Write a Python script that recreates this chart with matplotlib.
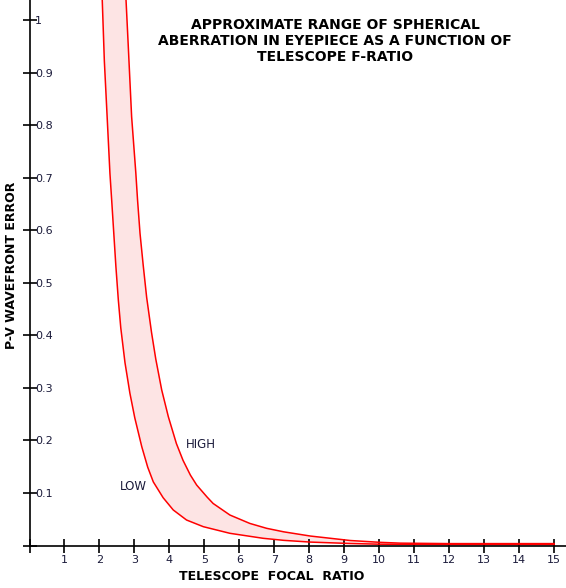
import matplotlib
matplotlib.use("Agg")
from matplotlib import pyplot as plt

# values
low_x = [2.05, 2.08, 2.14, 2.21, 2.30, 2.35, 2.41, 2.47, 2.54, 2.61, 2.73, 2.87, 3.01,
         3.21, 3.38, 3.54, 3.82, 4.11, 4.49, 4.97, 5.73, 6.68, 7.27, 8.03, 9.17, 10.0,
         12.0, 15.0]
low_y = [1.10, 1.038, 0.922, 0.829, 0.708, 0.657, 0.594, 0.531, 0.467, 0.414, 0.348, 0.290,
         0.243, 0.188, 0.149, 0.121, 0.091, 0.0676, 0.0485, 0.0358, 0.0232, 0.0137, 0.0098,
         0.0065, 0.0038, 0.0025, 0.0018, 0.0018]

high_x = [2.74, 2.76, 2.82, 2.92, 3.04, 3.09, 3.16, 3.25, 3.35, 3.49, 3.61, 3.78, 3.97,
          4.20, 4.39, 4.60, 4.78, 5.08, 5.25, 5.73, 6.30, 6.78, 7.27, 8.03, 9.17, 10.03,
          10.6, 12.0, 15.0]
high_y = [1.10, 1.038, 0.956, 0.816, 0.709, 0.657, 0.594, 0.534, 0.472, 0.405, 0.355, 0.296,
          0.245, 0.194, 0.162, 0.134, 0.115, 0.092, 0.080, 0.058, 0.042, 0.0327, 0.026, 0.018,
          0.0095, 0.006, 0.0045, 0.0036, 0.0036]

x_ticks = list(range(1, 16))
y_ticks = [0.1, 0.2, 0.3, 0.4, 0.5, 0.6, 0.7, 0.8, 0.9, 1.0]
y_tick_labels = ['0.1', '0.2', '0.3', '0.4', '0.5', '0.6', '0.7', '0.8', '0.9', '1']

title = "APPROXIMATE RANGE OF SPHERICAL\nABERRATION IN EYEPIECE AS A FUNCTION OF\nTELESCOPE F-RATIO"

fig = plt.figure(figsize=(5.66, 5.88), dpi=100)
ax = fig.add_axes([29.5 / 566, 42.5 / 588, 1 - 29.5 / 566, 545.5 / 588])
ax.set_xlim(0, 15.34)
ax.set_ylim(0, 1.038)

# shaded band between the two curves
ax.fill(low_x + high_x[::-1], low_y + high_y[::-1], color='#fde4e4', lw=0, zorder=1)
ax.plot(low_x, low_y, color='red', lw=1.1, zorder=2)
ax.plot(high_x, high_y, color='red', lw=1.1, zorder=2)

for s in ['top', 'right']:
    ax.spines[s].set_visible(False)
for s in ['left', 'bottom']:
    ax.spines[s].set_linewidth(1.2)
    ax.spines[s].set_zorder(3)

ax.set_xticks([0] + x_ticks)
ax.set_xticklabels([''] + [str(v) for v in x_ticks])
ax.set_yticks([0] + y_ticks)
ax.set_yticklabels([''] + y_tick_labels)
ax.tick_params(axis='both', direction='inout', length=10, width=1.2, labelsize=8,
               labelcolor='#1a1a3a')
ax.tick_params(axis='x', pad=2)
ax.tick_params(axis='y', pad=-9)
for lbl in ax.get_yticklabels():
    lbl.set_horizontalalignment('left')

ax.text(2.97, 0.113, 'LOW', fontsize=8.5, ha='center', va='center', color='#1a1a3a')
ax.text(4.89, 0.193, 'HIGH', fontsize=8.5, ha='center', va='center', color='#1a1a3a')

fig.text(335 / 566, 1 - 41 / 588, title, fontsize=10, fontweight='bold',
         ha='center', va='center', linespacing=1.2)
fig.text(12 / 566, 1 - 265 / 588, 'P-V WAVEFRONT ERROR', fontsize=9, fontweight='bold',
         rotation=90, ha='center', va='center')
fig.text(272 / 566, 1 - 576 / 588, 'TELESCOPE  FOCAL  RATIO', fontsize=9,
         fontweight='bold', ha='center', va='center')

fig.savefig('out.png', dpi=100)
